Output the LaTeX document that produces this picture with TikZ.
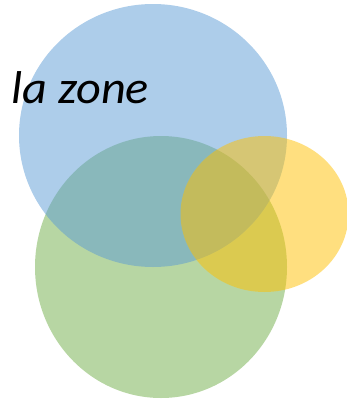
\documentclass[tikz,border=0pt]{standalone}
\usepackage{fontspec}
\setmainfont{Carlito}
\usepackage{xcolor}
\usepackage{tikz}
\usetikzlibrary{positioning}

\definecolor{zoneblue}{HTML}{5B9BD5}
\definecolor{zonegreen}{HTML}{70AD47}
\definecolor{zoneyellow}{HTML}{FFC000}

\begin{document}
\begin{tikzpicture}[
        x=1pt, y=-1pt,
        zone/.style={fill opacity=0.5},
        title/.style={anchor=base west, inner sep=0pt, xscale=1.05, font=\fontsize{46}{52}\selectfont\itshape}
        ]
        \useasboundingbox (0,0) rectangle (347,399);
        
        % Sets: green below, blue over it, yellow on top
        \fill [zone, zonegreen] (161,267) ellipse [x radius=126, y radius=131];
        \fill [zone, zoneblue] (153,135.5) ellipse [x radius=134, y radius=131.5];
        \fill [zone, zoneyellow] (264.5,214) ellipse [x radius=84, y radius=78];
        
        % Label
        \node (lazone) [title] at (11,103) {la zone};
        
    \end{tikzpicture}
\end{document}
